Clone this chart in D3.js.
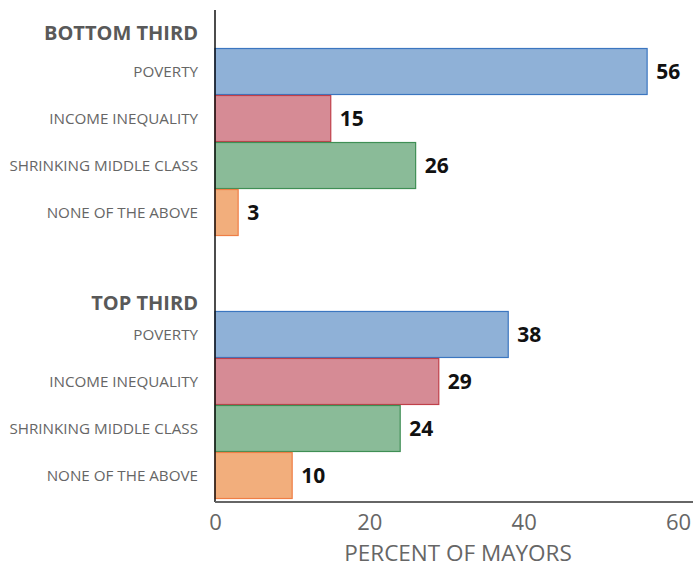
<!DOCTYPE html>
<html>
<head>
<meta charset="utf-8">
<script src="https://cdn.jsdelivr.net/npm/d3@7"></script>
<style>
  body { margin: 0; background: #fff; }
  svg text { font-family: "Open Sans", "Noto Sans", sans-serif; }
</style>
</head>
<body>
<div id="chart"></div>
<script>
var groups = ["BOTTOM THIRD", "TOP THIRD"];
var categories = ["POVERTY", "INCOME INEQUALITY", "SHRINKING MIDDLE CLASS", "NONE OF THE ABOVE"];
var bottomValues = [56, 15, 26, 3];
var topValues = [38, 29, 24, 10];
var xTicks = [0, 20, 40, 60];

var fills = ["#8fb1d7", "#d68b95", "#8abb98", "#f2ae7c"];
var strokes = ["#3b76c0", "#c0404a", "#3f8f55", "#ef7e45"];

var data = [];
groups.forEach(function (g, gi) {
    var vals = gi === 0 ? bottomValues : topValues;
    categories.forEach(function (c, ci) {
        data.push({ group: g, category: c, value: vals[ci], idx: ci });
    });
});

var width = 693, height = 569;
var margin = { top: 48, right: 0, bottom: 67, left: 215 };

var svg = d3.select("#chart").append("svg")
    .attr("width", width)
    .attr("height", height);

var x = d3.scaleLinear()
    .domain([0, 60])
    .range([margin.left, 678]);

// group bands with a gap between them
var yGroup = d3.scaleBand()
    .domain(groups)
    .range([margin.top, height - margin.bottom - 3])
    .paddingInner(0.285)
    .paddingOuter(0);

var yBar = d3.scaleBand()
    .domain(categories)
    .range([0, yGroup.bandwidth()]);

// bars
svg.selectAll("rect.bar")
    .data(data)
    .enter().append("rect")
    .attr("class", "bar")
    .attr("x", x(0))
    .attr("y", function (d) { return yGroup(d.group) + yBar(d.category) + 0.5; })
    .attr("width", function (d) { return x(d.value) - x(0); })
    .attr("height", yBar.bandwidth() - 1)
    .style("fill", function (d) { return fills[d.idx]; })
    .style("stroke", function (d) { return strokes[d.idx]; })
    .style("stroke-width", 1.2);

// value labels
svg.selectAll("text.value")
    .data(data)
    .enter().append("text")
    .attr("class", "value")
    .attr("x", function (d) { return x(d.value) + 9; })
    .attr("y", function (d) { return yGroup(d.group) + yBar(d.category) + yBar.bandwidth() / 2; })
    .attr("dy", "0.36em")
    .style("font-size", "21px")
    .style("font-weight", "bold")
    .style("fill", "#111")
    .text(function (d) { return d.value; });

// category labels
svg.selectAll("text.cat")
    .data(data)
    .enter().append("text")
    .attr("class", "cat")
    .attr("x", 198)
    .attr("y", function (d) { return yGroup(d.group) + yBar(d.category) + yBar.bandwidth() / 2; })
    .attr("dy", "0.36em")
    .attr("text-anchor", "end")
    .style("font-size", "15.2px")
    .style("fill", "#666")
    .text(function (d) { return d.category; });

// group headers
svg.selectAll("text.group")
    .data(groups)
    .enter().append("text")
    .attr("class", "group")
    .attr("x", 198)
    .attr("y", function (d, i) { return yGroup(d) - (i === 0 ? 8 : 1); })
    .attr("text-anchor", "end")
    .style("font-size", "20px")
    .style("font-weight", "bold")
    .style("fill", "#595959")
    .text(function (d) { return d; });

// y axis line
svg.append("line")
    .attr("x1", x(0)).attr("x2", x(0))
    .attr("y1", 10).attr("y2", height - margin.bottom)
    .style("stroke", "#111")
    .style("stroke-width", 1.5);

// x axis
var xAxis = d3.axisBottom(x)
    .tickValues(xTicks)
    .tickSize(0)
    .tickPadding(12);

var gx = svg.append("g")
    .attr("class", "x axis")
    .attr("transform", "translate(0," + (height - margin.bottom) + ")")
    .call(xAxis);
gx.select(".domain").remove();
gx.append("line")
    .attr("x1", x(0)).attr("x2", width)
    .style("stroke", "#666")
    .style("stroke-width", 2);
gx.selectAll(".tick text")
    .style("font-size", "22px")
    .style("fill", "#666")
    .style("font-family", "'Open Sans', sans-serif");

svg.append("text")
    .attr("x", 458)
    .attr("y", 561)
    .attr("text-anchor", "middle")
    .style("font-size", "22.5px")
    .style("fill", "#666")
    .text("PERCENT OF MAYORS");
</script>
</body>
</html>
